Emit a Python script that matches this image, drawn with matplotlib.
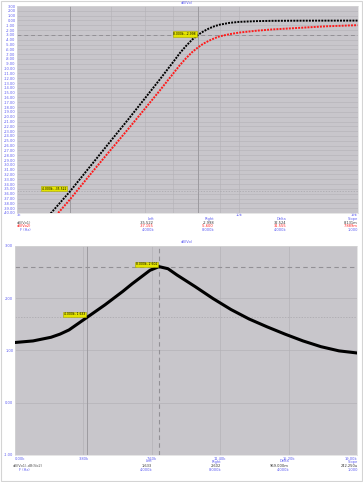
import matplotlib
matplotlib.use("Agg")
import matplotlib.pyplot as plt
from matplotlib.ticker import FixedLocator, NullFormatter
from matplotlib.patches import Rectangle

# --- top chart: dB(Vo1) / dB(Vo2) vs frequency (Hz), log axis ---
f_vo1 = [3600, 4000, 4500, 5000, 5500, 6000, 6500, 7000, 7250, 7500, 7750, 8000,
         8250, 8500, 8750, 9000, 9500, 10000, 11000, 12000, 14000, 16000, 19000]
db_vo1 = [-40.1, -35.5, -29.9, -24.9, -20.4, -16.2, -12.3, -8.6, -6.8, -5.3, -4.0, -3.0,
          -2.25, -1.65, -1.2, -0.88, -0.5, -0.3, -0.14, -0.08, -0.05, -0.04, -0.03]

f_vo2 = [3750, 4000, 4500, 5000, 5500, 6000, 6500, 7000, 7250, 7500, 7750, 8000,
         8250, 8500, 8750, 9000, 9500, 10000, 11000, 12000, 14000, 16000, 19000]
db_vo2 = [-40.0, -37.16, -31.6, -26.75, -22.4, -18.35, -14.6, -11.0, -9.3, -7.85, -6.6, -5.6,
          -4.8, -4.2, -3.7, -3.3, -2.85, -2.52, -2.13, -1.86, -1.52, -1.22, -0.98]

# --- bottom chart: dB(Vo1)-dB(Vo2) vs frequency, linear axis ---
f_diff = [0, 1000, 2000, 2500, 3000, 3500, 4000, 5000, 6000, 6500, 7000, 7500, 8000, 8500,
          9000, 9500, 10000, 11000, 12000, 13000, 14000, 15000, 16000, 17000, 18000, 19000]
db_diff = [1.15, 1.18, 1.25, 1.31, 1.39, 1.51, 1.63, 1.87, 2.13, 2.27, 2.40, 2.53, 2.60, 2.56,
           2.44, 2.33, 2.22, 1.99, 1.78, 1.60, 1.45, 1.31, 1.18, 1.07, 0.99, 0.95]

# cursors (left, right)
cursor_f = [4000, 8000]
cursor_vo1 = [-35.522, -2.998]
cursor_vo2 = [-37.155, -5.600]
cursor_diff = [1.633, 2.602]

top_xticks = [3000, 10000, 19000]
top_xlabels = ["3k", "10k", "19k"]
top_xminor = [4000, 5000, 6000, 7000, 8000, 9000]
bot_xticks = [0, 3800, 7600, 11400, 15200, 19000]
bot_xlabels = ["0.00k", "3.80k", "7.60k", "11.40k", "15.20k", "19.00k"]

W, H = 363, 482
BG = "#c8c6cb"
GRID = "#b4b2b7"
TICK = "#5c5cf2"
YEL = "#e4e400"
FS = 2.6


def fx(px):
    return px / W


def fy(py):
    return 1 - py / H


def eng(v):
    a = abs(v)
    if a >= 1000:
        return f"{v / 1000:.3f}k"
    if a >= 1 or a == 0:
        return f"{v:.3f}"
    if a >= 1e-3:
        return f"{v * 1e3:.3f}m"
    return f"{v * 1e6:.3f}u"


fig = plt.figure(figsize=(W / 100, H / 100), dpi=100)
fig.patches.append(Rectangle((0.002, 0.003), 0.994, 0.994, transform=fig.transFigure,
                             fill=False, edgecolor="#d4d4d4", lw=0.8))

# ---------------- top ----------------
ax1 = fig.add_axes([fx(17), fy(213), fx(357.5) - fx(17), fy(6) - fy(213)])
ax1.set_facecolor(BG)
ax1.set_xscale("log")
ax1.set_xlim(3000, 19000)
ax1.set_ylim(-40, 3)
ax1.xaxis.set_major_locator(FixedLocator(top_xticks))
ax1.set_xticklabels(top_xlabels)
ax1.xaxis.set_minor_locator(FixedLocator(top_xminor))
ax1.xaxis.set_minor_formatter(NullFormatter())
yt = list(range(3, -41, -1))
ax1.set_yticks(yt)
ax1.set_yticklabels([f"{v:.2f}" for v in yt])
ax1.grid(True, which="both", color=GRID, lw=0.4)
ax1.tick_params(which="both", length=0, labelsize=FS, labelcolor=TICK, pad=1.0)
ax1.tick_params(axis="x", pad=0.2)
ax1.get_xticklabels()[0].set_ha("left")
ax1.get_xticklabels()[-1].set_ha("right")

ax1.plot(f_vo1, db_vo1, color="black", lw=1.4, ls=(0, (1, 0.6)), zorder=4)
ax1.plot(f_vo2, db_vo2, color="#ff1a1a", lw=1.4, ls=(0, (1, 0.6)), zorder=4)

ax1.axvline(cursor_f[0], color="#9d9ba0", lw=0.7, zorder=2)
ax1.axvline(cursor_f[1], color="#9d9ba0", lw=0.7, zorder=2)
ax1.axhline(cursor_vo1[0], color="#a8a6ab", lw=0.5, ls=(0, (2, 2)), zorder=2)
ax1.axhline(cursor_vo1[1], color="#929095", lw=0.7, ls=(0, (4, 3)), zorder=2)

box = dict(boxstyle="square,pad=0.25", fc=YEL, ec="#a8a800", lw=0.4)
ax1.annotate(f"{eng(cursor_f[0])}, {cursor_vo1[0]:.3f}", xy=(cursor_f[0], cursor_vo1[0]),
             xytext=(-2.5, 2), textcoords="offset points", ha="right", va="center",
             fontsize=2.2, bbox=box, zorder=6)
ax1.annotate(f"{eng(cursor_f[1])}, {cursor_vo1[1]:.3f}", xy=(cursor_f[1], cursor_vo1[1]),
             xytext=(-1.5, 0.5), textcoords="offset points", ha="right", va="center",
             fontsize=2.2, bbox=box, zorder=6)
fig.text(fx(187), fy(3), "dB(Vo)", fontsize=FS, color=TICK, ha="center", va="center")

# ---------------- bottom ----------------
ax2 = fig.add_axes([fx(15), fy(455), fx(357) - fx(15), fy(245.7) - fy(455)])
ax2.set_facecolor(BG)
ax2.set_xlim(0, 19000)
ax2.set_ylim(-1, 3)
ax2.set_xticks(bot_xticks)
ax2.set_xticklabels(bot_xlabels)
yt2 = [3, 2, 1, 0, -1]
ax2.set_yticks(yt2)
ax2.set_yticklabels([f"{v:.2f}" for v in yt2])
ax2.grid(True, color=GRID, lw=0.5)
ax2.tick_params(length=0, labelsize=FS, labelcolor=TICK, pad=1.2)
ax2.get_xticklabels()[0].set_ha("left")
ax2.get_xticklabels()[-1].set_ha("right")

ax2.plot(f_diff, db_diff, color="black", lw=2.2, zorder=4, solid_joinstyle="round")

ax2.axvline(cursor_f[0], color="#9d9ba0", lw=0.7, zorder=2)
ax2.axvline(cursor_f[1], color="#929095", lw=0.8, ls=(0, (4, 3)), zorder=2)
ax2.axhline(cursor_diff[0], color="#a8a6ab", lw=0.5, ls=(0, (2, 2)), zorder=2)
ax2.axhline(cursor_diff[1], color="#929095", lw=0.8, ls=(0, (4, 3)), zorder=2)
ax2.annotate(f"{eng(cursor_f[0])}, {cursor_diff[0]:.3f}", xy=(cursor_f[0], cursor_diff[0]),
             xytext=(-1.5, 2), textcoords="offset points", ha="right", va="center",
             fontsize=2.2, bbox=box, zorder=6)
ax2.annotate(f"{eng(cursor_f[1])}, {cursor_diff[1]:.3f}", xy=(cursor_f[1], cursor_diff[1]),
             xytext=(-1.5, 1.5), textcoords="offset points", ha="right", va="center",
             fontsize=2.2, bbox=box, zorder=6)
fig.text(fx(187), fy(242), "dB(Vo)", fontsize=FS, color=TICK, ha="center", va="center")

for ax in (ax1, ax2):
    for s in ax.spines.values():
        s.set_color("#dcdcdc")
        s.set_linewidth(0.5)

# ---------------- cursor tables ----------------
cols_top = [154, 214, 286, 358]
cols_bot = [152, 221, 289, 358]
heads = ["Left", "Right", "Delta", "Slope"]


def row(y, cols, left, right, df, color):
    d = right - left
    vals = [eng(left), eng(right), eng(d), eng(d / df)]
    for x, t in zip(cols, vals):
        fig.text(fx(x), fy(y), t, fontsize=FS, color=color, ha="right", va="center")


df = cursor_f[1] - cursor_f[0]
for x, t in zip(cols_top, heads):
    fig.text(fx(x), fy(218.8), t, fontsize=FS, color=TICK, ha="right", va="center")
fig.text(fx(17), fy(222.5), "dB(Vo1)", fontsize=FS, color="#555555", va="center")
fig.text(fx(17), fy(226.3), "dB(Vo2)", fontsize=FS, color="#ff2020", va="center")
fig.text(fx(20), fy(230.1), "F (Hz)", fontsize=FS, color=TICK, va="center")
row(222.5, cols_top, cursor_vo1[0], cursor_vo1[1], df, "#333333")
row(226.3, cols_top, cursor_vo2[0], cursor_vo2[1], df, "#ff2020")
row(230.1, cols_top, cursor_f[0], cursor_f[1], df, TICK)

for x, t in zip(cols_bot, heads):
    fig.text(fx(x), fy(461.5), t, fontsize=FS, color=TICK, ha="right", va="center")
fig.text(fx(13), fy(466), "dB(Vo1)-dB(Vo2)", fontsize=FS, color="#555555", va="center")
fig.text(fx(19), fy(470.3), "F (Hz)", fontsize=FS, color=TICK, va="center")
row(466, cols_bot, cursor_diff[0], cursor_diff[1], df, "#333333")
row(470.3, cols_bot, cursor_f[0], cursor_f[1], df, TICK)

fig.savefig("out.png", dpi=100)
plt.close(fig)
